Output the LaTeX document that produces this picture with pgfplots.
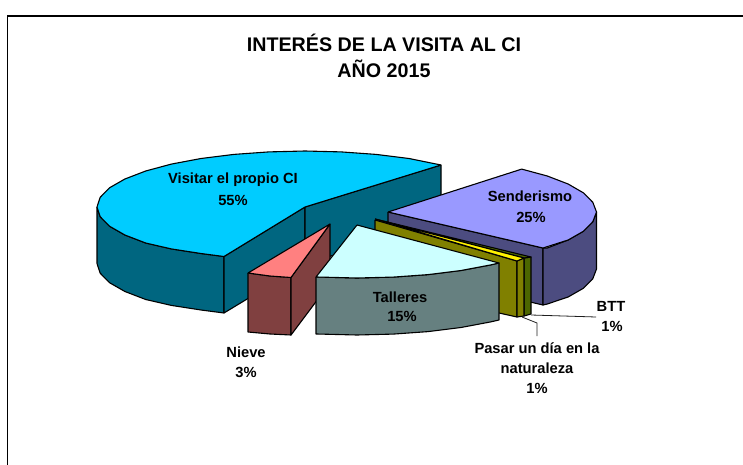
\documentclass[border=0pt]{standalone}
\usepackage{fontspec}
\setmainfont{Liberation Sans}
\usepackage{pgfplots}
\pgfplotsset{compat=1.18}
\definecolor{cBlue}{RGB}{0,204,255}
\definecolor{cBlueD}{RGB}{0,102,128}
\definecolor{cPur}{RGB}{153,153,255}
\definecolor{cPurD}{RGB}{76,76,128}
\definecolor{cTal}{RGB}{204,255,255}
\definecolor{cTalD}{RGB}{102,128,128}
\definecolor{cNie}{RGB}{255,128,128}
\definecolor{cNieD}{RGB}{128,64,64}
\definecolor{cOli}{RGB}{128,128,0}
\definecolor{cBtt}{RGB}{76,102,0}
\definecolor{cLead}{RGB}{30,30,30}
\tikzset{
  sl/.style={fill=#1,draw=black,line width=1.1pt,line join=round,mark=none,solid},
  lab/.style={font=\fontsize{14.7}{16}\selectfont\bfseries,inner sep=0pt,anchor=center},
  ttl/.style={font=\fontsize{19.7}{21}\selectfont\bfseries,inner sep=0pt,anchor=center}
}
\begin{document}
\begin{tikzpicture}
\useasboundingbox (0,0) rectangle (743pt,465pt);
\begin{axis}[
  at={(0,0)},anchor=south west,
  scale only axis,width=743pt,height=465pt,
  xmin=0,xmax=743,ymin=0,ymax=465,y dir=reverse,
  hide axis,clip=true,
]
% frame
\addplot[draw=black,line width=1.2pt,mark=none] coordinates {(7.5,465)(7.5,16)(743,16)};
% Visitar: outer side
\addplot[sl=cBlueD] coordinates {(97,207)(100.2,216.7)(109.5,226.2)(124.9,235)(145.7,243)(171.3,248.9)(201,253.5)(224,256.5)
 (224,313)(201,310)(171.3,305.4)(145.7,299.5)(124.9,291.5)(109.5,282.7)(100.2,273.2)(97,263.5)(97,207)};
% Visitar: cut faces
\addplot[sl=cBlueD] coordinates {(224,256.5)(305,207)(305,264)(224,313)(224,256.5)};
\addplot[sl=cBlueD] coordinates {(305,207)(441,165)(441,222)(305,264)(305,207)};
% Visitar: top
\addplot[sl=cBlue] coordinates {(441,165)(409,158.5)(376.1,154.4)(341.1,151.9)(305,151)(268.9,151.9)(233.9,154.4)(201,158.5)(171.3,164.1)(145.7,171)(124.9,179)(109.5,187.8)(100.2,197.3)(97,207)(100.2,216.7)(109.5,226.2)(124.9,235)(145.7,243)(171.3,248.9)(201,253.5)(224,256.5)(305,207)(441,165)};
% Senderismo
\addplot[sl=cPurD] coordinates {(388,212)(543,248)(543,305)(388,269)(388,212)};
\addplot[sl=cPurD] coordinates {(543,248)(547.3,248)(568.1,240)(583.5,231.2)(592.8,221.7)(596.5,212)(596.5,269)(592.8,278.7)(583.5,288.2)(568.1,297)(547.3,304)(543,305)(543,248)};
\addplot[sl=cPur] coordinates {(388,212)(521.7,169.1)(547.3,176)(568.1,184)(583.5,192.9)(592.8,202.3)(596.5,212)(592.8,221.7)(583.5,231.2)(568.1,240)(543,248)(388,212)};
% BTT
\addplot[sl=cBtt] coordinates {(524,258)(531,257)(531,314)(524,316)(524,258)};
\addplot[sl=cBtt] coordinates {(375,219)(531,257)(524,258)(375,219)};
% Pasar un dia
\addplot[sl=cOli] coordinates {(375,220)(517,261)(517,317)(499,313)(375,278)(375,220)};
\addplot[sl=cOli] coordinates {(517,261)(524,258)(524,316)(517,317)(517,261)};
\addplot[sl=yellow] coordinates {(375,219)(524,258)(517,261)(375,219)};
% Nieve
\addplot[sl=cNieD] coordinates {(248,273)(270,276)(291,277.5)(291,335)(270,334)(248,332)(248,273)};
\addplot[sl=cNieD] coordinates {(291,277.5)(330,224)(330,283)(291,335)(291,277.5)};
\addplot[sl=cNie] coordinates {(330,224)(248,273)(270,276)(291,277.5)(330,224)};
% Talleres
\addplot[sl=cTalD] coordinates {(316,277)(320.9,277.1)(357,278)(393.1,277.1)(428.1,274.6)(461,270.5)(490.7,264.9)(499,263)(499,320)(490.7,321.9)(461,327.5)(428.1,331.6)(393.1,334.1)(357,335)(320.9,334.1)(316,334)(316,277)};
\addplot[sl=cTal] coordinates {(357,225)(316,277)(320.9,277.1)(357,278)(393.1,277.1)(428.1,274.6)(461,270.5)(490.7,264.9)(499,263)(357,225)};
% leader lines
\addplot[draw=cLead,line width=0.8pt,mark=none] coordinates {(531,315)(596,317)};
\addplot[draw=cLead,line width=0.8pt,mark=none] coordinates {(522,317)(537,323)(537,336)};
% texts
\node[ttl] at (axis cs:384,43) {INTERÉS DE LA VISITA AL CI};
\node[ttl] at (axis cs:384,69) {AÑO 2015};
\node[lab] at (axis cs:233,180) {Visitar el propio CI};
\node[lab] at (axis cs:233,200) {55\%};
\node[lab] at (axis cs:530,196) {Senderismo};
\node[lab] at (axis cs:531,217) {25\%};
\node[lab] at (axis cs:400,297) {Talleres};
\node[lab] at (axis cs:402,316) {15\%};
\node[lab] at (axis cs:246,352) {Nieve};
\node[lab] at (axis cs:246,372) {3\%};
\node[lab] at (axis cs:537,348) {Pasar un día en la};
\node[lab] at (axis cs:537,368) {naturaleza};
\node[lab] at (axis cs:537,388) {1\%};
\node[lab] at (axis cs:611,306) {BTT};
\node[lab] at (axis cs:612,326) {1\%};
\end{axis}
\end{tikzpicture}
\end{document}
